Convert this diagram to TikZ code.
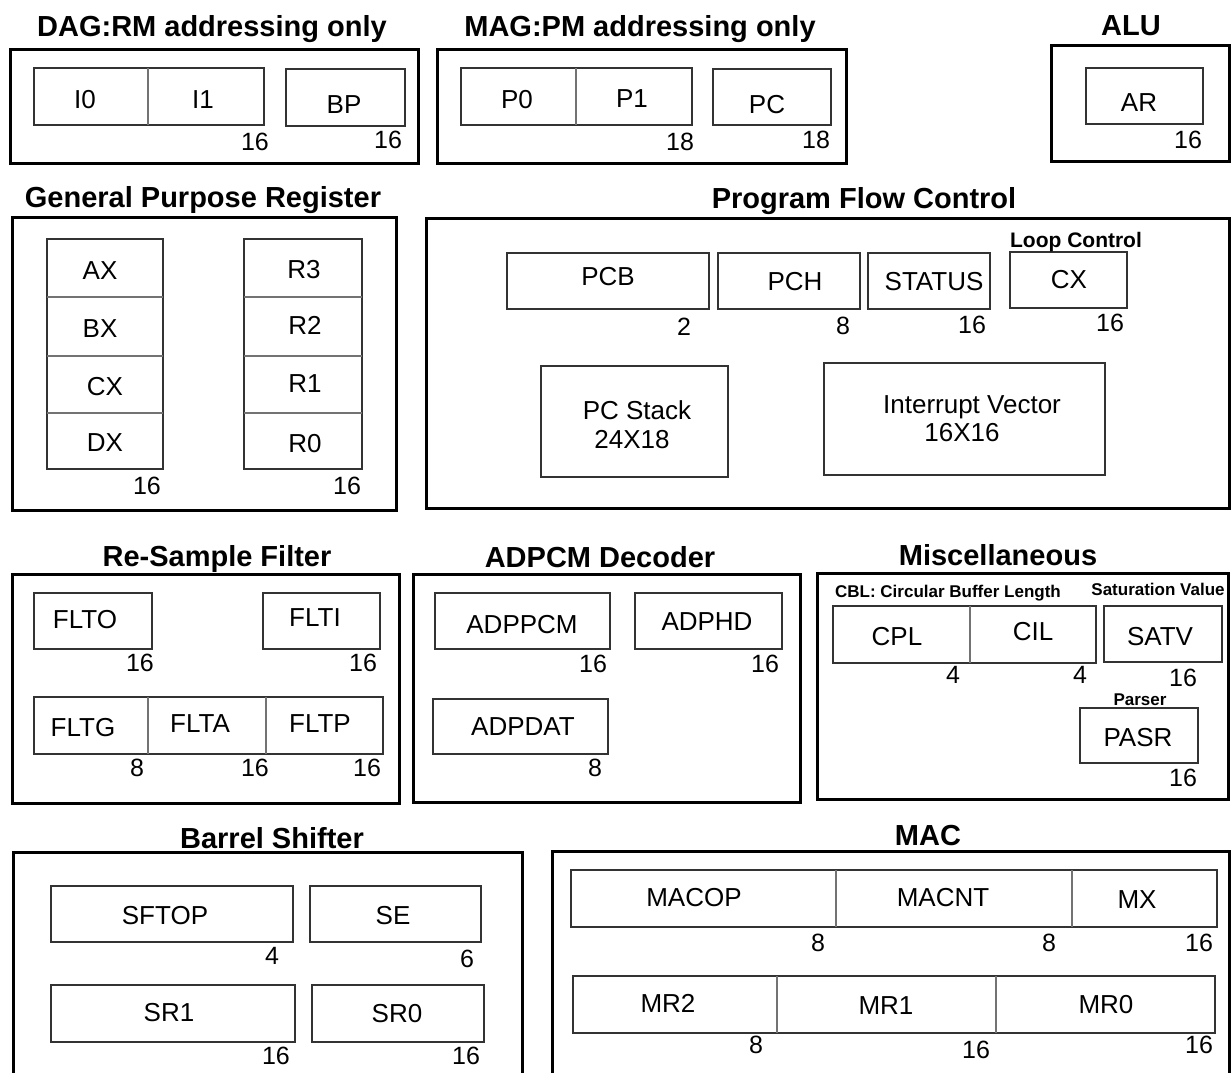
\documentclass[tikz,border=0pt]{standalone}
\usepackage{fontspec}
\setmainfont{Liberation Sans}
\begin{document}
\begin{tikzpicture}[x=1pt,y=-1pt,
  unit/.style={draw=black, line width=3pt},
  regbox/.style={draw=black!80, line width=1.4pt},
  divider/.style={draw=black!55, line width=1.4pt},
  title/.style={font=\fontsize{29}{34}\selectfont\bfseries, inner sep=0pt, anchor=base},
  reg/.style={font=\fontsize{26}{30}\selectfont, inner sep=0pt},
  bits/.style={font=\fontsize{25}{29}\selectfont, inner sep=0pt},
  note/.style={font=\fontsize{17}{20}\selectfont\bfseries, inner sep=0pt, anchor=base},
]
\useasboundingbox (0,0) rectangle (1231,1072);
\clip (0,0) rectangle (1231,1072);

% ---------------- DAG ----------------
\draw[unit] (10,49) rectangle (418,163);
\node[title] (tDAG) at (212,36) {DAG:RM addressing only};
\draw[regbox] (34,68) rectangle (264,125);
\draw[divider] (148,68) -- (148,125);
\draw[regbox] (286,69) rectangle (405,126);
\node[reg] (I0) at (85,100) {I0};
\node[reg] (I1) at (203,100) {I1};
\node[reg] (BP) at (344,105) {BP};
\node[bits] (bI) at (255,142) {16};
\node[bits] (bBP) at (388,140) {16};

% ---------------- MAG ----------------
\draw[unit] (437,49) rectangle (846,163);
\node[title] (tMAG) at (640,36) {MAG:PM addressing only};
\draw[regbox] (461,68) rectangle (692,125);
\draw[divider] (576,68) -- (576,125);
\draw[regbox] (713,69) rectangle (831,125);
\node[reg] (P0) at (517,100) {P0};
\node[reg] (P1) at (632,99) {P1};
\node[reg] (PC) at (767,105) {PC};
\node[bits] (bP) at (680,142) {18};
\node[bits] (bPC) at (816,140) {18};

% ---------------- ALU ----------------
\draw[unit] (1051,45) rectangle (1229,161);
\node[title] (tALU) at (1131,35) {ALU};
\draw[regbox] (1086,68) rectangle (1203,124);
\node[reg] (AR) at (1139,103) {AR};
\node[bits] (bAR) at (1188,140) {16};

% ---------------- General Purpose Register ----------------
\draw[unit] (12,217) rectangle (396,510);
\node[title] (tGPR) at (203,207) {General Purpose Register};
\draw[regbox] (47,239) rectangle (163,469);
\draw[divider] (47,297) -- (163,297);
\draw[divider] (47,356) -- (163,356);
\draw[divider] (47,413) -- (163,413);
\draw[regbox] (244,239) rectangle (362,469);
\draw[divider] (244,297) -- (362,297);
\draw[divider] (244,356) -- (362,356);
\draw[divider] (244,413) -- (362,413);
\node[reg] (AX) at (100,271) {AX};
\node[reg] (BX) at (100,329) {BX};
\node[reg] (CXg) at (105,387) {CX};
\node[reg] (DX) at (105,443) {DX};
\node[reg] (R3) at (304,270) {R3};
\node[reg] (R2) at (305,325) {R2};
\node[reg] (R1) at (305,384) {R1};
\node[reg] (R0) at (305,444) {R0};
\node[bits] (bL) at (147,486) {16};
\node[bits] (bR) at (347,486) {16};

% ---------------- Program Flow Control ----------------
\draw[unit] (426,218) rectangle (1229,508);
\node[title] (tPFC) at (864,208) {Program Flow Control};
\draw[regbox] (507,253) rectangle (709,309);
\draw[regbox] (718,253) rectangle (860,309);
\draw[regbox] (868,253) rectangle (990,309);
\draw[regbox] (1010,252) rectangle (1127,308);
\node[reg] (PCB) at (608,277) {PCB};
\node[reg] (PCH) at (795,282) {PCH};
\node[reg] (STATUS) at (934,282) {STATUS};
\node[reg] (CXl) at (1069,280) {CX};
\node[note, font=\fontsize{21}{24}\selectfont\bfseries] (tLoop) at (1076,247) {Loop Control};
\node[bits] (bPCB) at (684,327) {2};
\node[bits] (bPCH) at (843,326) {8};
\node[bits] (bST) at (972,325) {16};
\node[bits] (bCX) at (1110,323) {16};
\draw[regbox] (541,366) rectangle (728,477);
\node[reg] (PCS) at (637,410) {PC Stack};
\node[reg] (PCSd) at (632,440) {24X18};
\draw[regbox] (824,363) rectangle (1105,475);
\node[reg, anchor=base] (IV) at (972,413) {Interrupt Vector};
\node[reg] (IVd) at (962,433) {16X16};

% ---------------- Re-Sample Filter ----------------
\draw[unit] (12,574) rectangle (399,803);
\node[title] (tRSF) at (217,566) {Re-Sample Filter};
\draw[regbox] (34,593) rectangle (152,649);
\draw[regbox] (263,593) rectangle (380,649);
\node[reg] (FLTO) at (85,620) {FLTO};
\node[reg] (FLTI) at (315,618) {FLTI};
\node[bits] (bFO) at (140,663) {16};
\node[bits] (bFI) at (363,663) {16};
\draw[regbox] (34,697) rectangle (383,754);
\draw[divider] (148,697) -- (148,754);
\draw[divider] (266,697) -- (266,754);
\node[reg] (FLTG) at (83,728) {FLTG};
\node[reg] (FLTA) at (200,724) {FLTA};
\node[reg] (FLTP) at (320,724) {FLTP};
\node[bits] (bFG) at (137,768) {8};
\node[bits] (bFA) at (255,768) {16};
\node[bits] (bFP) at (367,768) {16};

% ---------------- ADPCM Decoder ----------------
\draw[unit] (413,574) rectangle (800,802);
\node[title] (tADP) at (600,567) {ADPCM Decoder};
\draw[regbox] (435,593) rectangle (610,649);
\draw[regbox] (635,593) rectangle (782,649);
\draw[regbox] (433,699) rectangle (608,754);
\node[reg] (ADPPCM) at (522,625) {ADPPCM};
\node[reg] (ADPHD) at (707,622) {ADPHD};
\node[reg] (ADPDAT) at (523,727) {ADPDAT};
\node[bits] (bAP) at (593,664) {16};
\node[bits] (bAH) at (765,664) {16};
\node[bits] (bAD) at (595,768) {8};

% ---------------- Miscellaneous ----------------
\draw[unit] (817,573) rectangle (1228,799);
\node[title] (tMisc) at (998,565) {Miscellaneous};
\node[note] (tCBL) at (948,597) {CBL: Circular Buffer Length};
\node[note] (tSat) at (1158,595) {Saturation Value};
\draw[regbox] (833,606) rectangle (1096,663);
\draw[divider] (970,606) -- (970,663);
\draw[regbox] (1104,606) rectangle (1222,662);
\node[reg] (CPL) at (897,637) {CPL};
\node[reg] (CIL) at (1033,632) {CIL};
\node[reg] (SATV) at (1160,637) {SATV};
\node[bits] (bCPL) at (953,675) {4};
\node[bits] (bCIL) at (1080,675) {4};
\node[bits] (bSATV) at (1183,678) {16};
\node[note] (tPar) at (1140,705) {Parser};
\draw[regbox] (1080,708) rectangle (1198,763);
\node[reg] (PASR) at (1138,738) {PASR};
\node[bits] (bPASR) at (1183,778) {16};

% ---------------- Barrel Shifter ----------------
\draw[unit] (13,852) rectangle (522,1095);
\node[title] (tBS) at (272,848) {Barrel Shifter};
\draw[regbox] (51,886) rectangle (293,942);
\draw[regbox] (310,886) rectangle (481,942);
\draw[regbox] (51,985) rectangle (295,1042);
\draw[regbox] (312,985) rectangle (484,1042);
\node[reg] (SFTOP) at (165,916) {SFTOP};
\node[reg] (SE) at (393,916) {SE};
\node[reg] (SR1) at (169,1013) {SR1};
\node[reg] (SR0) at (397,1014) {SR0};
\node[bits] (bSF) at (272,956) {4};
\node[bits] (bSE) at (467,959) {6};
\node[bits] (bSR1) at (276,1056) {16};
\node[bits] (bSR0) at (466,1056) {16};

% ---------------- MAC ----------------
\draw[unit] (552,851) rectangle (1229,1095);
\node[title] (tMAC) at (928,845) {MAC};
\draw[regbox] (571,870) rectangle (1217,927);
\draw[divider] (836,870) -- (836,927);
\draw[divider] (1072,870) -- (1072,927);
\node[reg] (MACOP) at (694,898) {MACOP};
\node[reg] (MACNT) at (943,898) {MACNT};
\node[reg] (MX) at (1137,900) {MX};
\node[bits] (bMO) at (818,943) {8};
\node[bits] (bMN) at (1049,943) {8};
\node[bits] (bMX) at (1199,943) {16};
\draw[regbox] (573,976) rectangle (1215,1033);
\draw[divider] (777,976) -- (777,1033);
\draw[divider] (996,976) -- (996,1033);
\node[reg] (MR2) at (668,1003) {MR2};
\node[reg] (MR1) at (886,1006) {MR1};
\node[reg] (MR0) at (1106,1005) {MR0};
\node[bits] (bM2) at (756,1045) {8};
\node[bits] (bM1) at (976,1050) {16};
\node[bits] (bM0) at (1199,1045) {16};
\end{tikzpicture}
\end{document}
